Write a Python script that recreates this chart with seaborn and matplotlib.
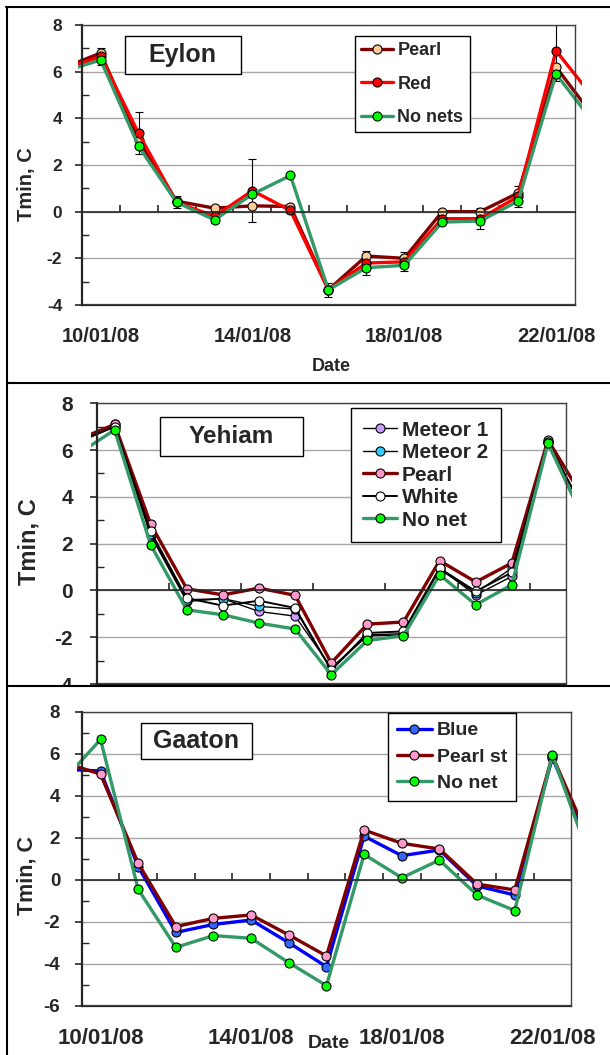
import numpy as np
import matplotlib
matplotlib.use('Agg')
import matplotlib.pyplot as plt
import seaborn as sns
from matplotlib.patches import Rectangle
from matplotlib.lines import Line2D

# days of January 2008 (9 and 23 only show up as line stubs at the edges)
days = list(range(9, 24))
date_ticks = [10, 14, 18, 22]
date_labels = ['10/01/08', '14/01/08', '18/01/08', '22/01/08']

# Eylon
eylon_pearl = [6.15, 6.8, 3.05, 0.45, 0.15, 0.25, 0.22, -3.35, -1.9, -2.0, 0.0, 0.0, 0.8, 6.2, 4.05]
eylon_red = [6.1, 6.65, 3.35, 0.4, -0.2, 0.9, 0.05, -3.35, -2.2, -2.15, -0.3, -0.3, 0.65, 6.9, 4.85]
eylon_nonets = [6.0, 6.5, 2.8, 0.4, -0.35, 0.75, 1.55, -3.35, -2.4, -2.3, -0.45, -0.4, 0.45, 5.9, 3.8]
eylon_red_err = [0.35, 0.9, 0.25, 0.3, 1.35, 0.1, 0.3, 0.5, 0.4, 0.25, 0.45, 0.45, 1.3]  # 10..22

# Yehiam
yeh_meteor1 = [6.4, 7.1, 2.35, -0.47, -0.35, -0.9, -1.1, -3.3, -1.95, -1.9, 0.95, -0.2, 0.6, 6.35, 3.4]
yeh_meteor2 = [6.35, 7.0, 2.4, -0.4, -0.35, -0.68, -0.8, -3.4, -1.9, -1.85, 0.9, -0.1, 0.95, 6.35, 3.4]
yeh_pearl = [6.45, 7.1, 2.83, 0.07, -0.19, 0.1, -0.21, -3.1, -1.44, -1.35, 1.27, 0.36, 1.17, 6.43, 3.9]
yeh_white = [6.35, 7.0, 2.52, -0.33, -0.65, -0.44, -0.75, -3.4, -1.82, -1.75, 0.95, -0.04, 0.77, 6.35, 3.4]
yeh_nonet = [5.85, 6.86, 1.95, -0.83, -1.04, -1.4, -1.65, -3.6, -2.14, -1.94, 0.67, -0.61, 0.24, 6.29, 3.0]

# Gaaton
gaa_blue = [5.26, 5.18, 0.63, -2.5, -2.12, -1.91, -2.99, -4.13, 2.08, 1.15, 1.42, -0.29, -0.72, 5.81, 1.6]
gaa_pearl = [5.6, 5.03, 0.79, -2.22, -1.83, -1.67, -2.62, -3.62, 2.37, 1.74, 1.47, -0.2, -0.48, 5.9, 1.8]
gaa_nonet = [4.7, 6.68, -0.45, -3.21, -2.65, -2.78, -3.94, -5.03, 1.21, 0.1, 0.94, -0.72, -1.46, 5.94, 1.0]

sns.set_style('ticks')
plt.rcParams['font.family'] = ['Liberation Sans', 'DejaVu Sans']
plt.rcParams['font.weight'] = 'bold'
plt.rcParams['axes.labelweight'] = 'bold'
plt.rcParams['axes.unicode_minus'] = False

W, H = 610, 1055
fig = plt.figure(figsize=(W / 100, H / 100), dpi=100)


def box(x0, y0, x1, y1):
    # pixel box -> figure fraction rect
    return [x0 / W, 1 - y1 / H, (x1 - x0) / W, (y1 - y0) / H]


def series(ax, vals, line, face, lw, label):
    sns.lineplot(x=days, y=vals, ax=ax, color=line, linewidth=lw, marker='o',
                 markersize=6.5, markerfacecolor=face, markeredgecolor='black',
                 markeredgewidth=0.8, label=label)


def style(ax, ymin, ymax, xticks, ylab_fs, tick_fs, ypad):
    ax.set_xlim(9.5, 22.5)
    ax.set_ylim(ymin, ymax)
    ax.set_yticks(np.arange(ymin, ymax + 1, 2))
    ax.set_yticks(np.arange(ymin + 1, ymax, 2), minor=True)
    ax.set_axisbelow(True)
    ax.yaxis.grid(True, which='major', color='#a6a6a6', lw=1)
    ax.tick_params(axis='y', which='major', direction='out', length=5, width=1.2,
                   labelsize=tick_fs, pad=ypad, left=True)
    ax.tick_params(axis='y', which='minor', direction='in', length=5, width=1, left=True)
    for t in ax.get_yticklabels():
        t.set_fontweight('bold')
    ax.spines['bottom'].set_position(('data', 0))
    ax.spines['bottom'].set_linewidth(1.2)
    ax.spines['left'].set_linewidth(1.6)
    for s in ['top', 'right']:
        ax.spines[s].set_visible(True)
        ax.spines[s].set_color('#404040')
        ax.spines[s].set_linewidth(1)
    ax.set_xticks(xticks)
    ax.tick_params(axis='x', direction='in', length=5, width=1.2, labelbottom=False, bottom=True)
    ax.set_ylabel('Tmin, C', fontsize=ylab_fs, fontweight='bold')
    ax.yaxis.label.set_va('center')


def clip(ax, left, right):
    r = Rectangle((-left, 0), 1 + left + right, 1, transform=ax.transAxes)
    for ln in ax.lines:
        ln.set_clip_path(r)
    for c in ax.collections:
        c.set_clip_path(r)


def legend(ax, x, y, fs, spacing, bpad, hlen):
    handles, labels = ax.get_legend_handles_labels()
    lg = ax.legend(handles, labels, loc='upper left', bbox_to_anchor=(x / W, 1 - y / H),
                   bbox_transform=fig.transFigure, fontsize=fs, frameon=True, fancybox=False,
                   edgecolor='black', framealpha=1, handlelength=hlen, handletextpad=0.25,
                   labelspacing=spacing, borderpad=bpad, borderaxespad=0)
    lg.get_frame().set_linewidth(1)
    for t in lg.get_texts():
        t.set_fontweight('bold')


def bottom_frame(ax, labels, fs, pad):
    sec = ax.secondary_xaxis('bottom')
    sec.spines['bottom'].set_linewidth(1.6)
    if labels:
        sec.set_xticks(date_ticks, labels=date_labels)
        for t in sec.get_xticklabels():
            t.set_fontweight('bold')
    else:
        sec.set_xticks([])
    sec.tick_params(length=0, pad=pad, labelsize=fs)


# ---------------- Eylon
ax1 = fig.add_axes(box(81.7, 25, 575, 305))
ax1.errorbar(days[1:-1], eylon_red[1:-1], yerr=eylon_red_err, fmt='none', ecolor='black',
             elinewidth=0.8, capsize=3, capthick=0.8, zorder=1.5)
series(ax1, eylon_pearl, '#800000', '#FFCC99', 2.4, 'Pearl')
series(ax1, eylon_red, '#FF0000', '#FF0000', 2.4, 'Red')
series(ax1, eylon_nonets, '#339966', '#00FF00', 2.4, 'No nets')
style(ax1, -4, 8, np.arange(10.5, 22, 1), 14.5, 12.5, 9)
ax1.yaxis.set_label_coords(-0.111, 0.432)
ax1.set_xlabel('Date', fontsize=13, fontweight='bold')
ax1.xaxis.set_label_coords(0.505, -0.221)
ax1.xaxis.label.set_va('center')
bottom_frame(ax1, True, 14.5, 16)
legend(ax1, 355, 36, 13, 0.9, 0.35, 1.75)
clip(ax1, 0.008, 0.0136)

# ---------------- Yehiam
ax2 = fig.add_axes(box(96.5, 403.3, 566, 684))
ax2.set_zorder(0)
series(ax2, yeh_meteor1, 'black', '#CC99FF', 1.0, 'Meteor 1')
series(ax2, yeh_meteor2, 'black', '#33CCFF', 1.0, 'Meteor 2')
series(ax2, yeh_pearl, '#800000', '#FF99CC', 2.4, 'Pearl')
series(ax2, yeh_white, 'black', 'white', 1.4, 'White')
series(ax2, yeh_nonet, '#339966', '#00FF00', 2.4, 'No net')
style(ax2, -4, 8, np.arange(11.5, 22, 2), 17, 15, 12)
ax2.yaxis.set_label_coords(-0.144, 0.506)
bottom_frame(ax2, False, 12, 0)
legend(ax2, 351, 408, 15, 0.17, 0.6, 1.6)
clip(ax2, 0.0124, 0.0128)

# white cover so the middle panel is cut at the separator
fig.add_artist(Rectangle((0, 0), 1, 1 - 686 / H, transform=fig.transFigure,
                         facecolor='white', edgecolor='none', zorder=0.5))

# ---------------- Gaaton
ax3 = fig.add_axes(box(81.7, 711.7, 571.2, 1006))
ax3.set_zorder(1)
series(ax3, gaa_blue, '#0000FF', '#3366FF', 2.4, 'Blue')
series(ax3, gaa_pearl, '#800000', '#FF99CC', 2.4, 'Pearl st')
series(ax3, gaa_nonet, '#339966', '#00FF00', 2.4, 'No net')
style(ax3, -6, 8, np.arange(10.5, 22, 1), 15.5, 13.5, 10.5)
ax3.yaxis.set_label_coords(-0.112, 0.445)
ax3.set_xlabel('Date', fontsize=14, fontweight='bold')
ax3.xaxis.set_label_coords(0.505, -0.129)
ax3.xaxis.label.set_va('center')
bottom_frame(ax3, True, 16, 16)
legend(ax3, 388, 713, 14, 0.45, 0.45, 1.8)
clip(ax3, 0.0096, 0.0135)

# site name boxes
for (x0, y0, x1, y1), name, fs in [((125, 35.7, 240.5, 74), 'Eylon', 18),
                                    ((159.5, 417.3, 302.7, 456), 'Yehiam', 17.5),
                                    ((141, 722.7, 252, 759), 'Gaaton', 18)]:
    fig.add_artist(Rectangle((x0 / W, 1 - y1 / H), (x1 - x0) / W, (y1 - y0) / H,
                             transform=fig.transFigure, facecolor='white',
                             edgecolor='black', lw=1, zorder=5))
    fig.text((x0 + x1) / 2 / W, 1 - (y0 + y1) / 2 / H, name, ha='center', va='center',
             fontsize=fs, fontweight='bold', zorder=6)

# panel borders
for xs, ys in [([6, W], [7, 7]), ([7, 7], [7, H]), ([7, W], [383, 383]), ([7, W], [686, 686])]:
    fig.add_artist(Line2D([x / W for x in xs], [1 - y / H for y in ys], transform=fig.transFigure,
                          color='black', lw=1.5, zorder=7))

fig.savefig('out.png', dpi=100)
